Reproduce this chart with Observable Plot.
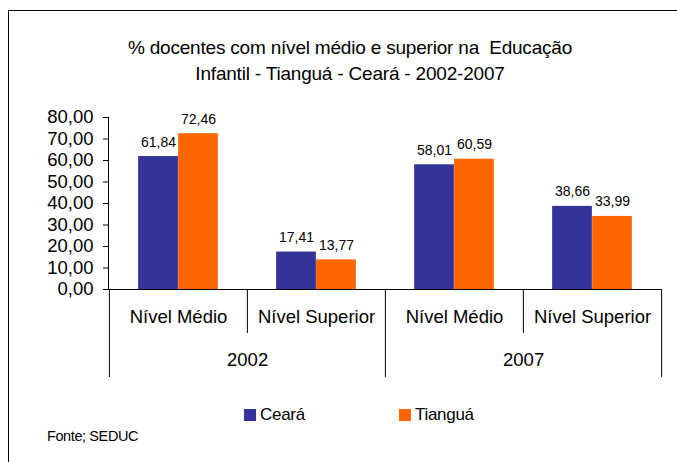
<!DOCTYPE html>
<html><head><meta charset="utf-8">
<script src="https://cdn.jsdelivr.net/npm/d3@7"></script>
<script src="https://cdn.jsdelivr.net/npm/@observablehq/plot@0.6"></script>
<style>
body{margin:0;background:#fff;font-family:"Liberation Sans",Arial,sans-serif;color:#000}
#wrap{position:relative;width:677px;height:462px;overflow:hidden;background:#fff}
#border{position:absolute;left:8px;top:10px;width:720px;height:520px;border-left:1px solid #000;border-top:1px solid #000}
#title{position:absolute;left:0;top:35px;width:700px;text-align:center;font-size:19px;line-height:26px;white-space:pre;letter-spacing:-0.2px}
#main{position:absolute;left:0;top:100px}
#haxis{position:absolute;left:0;top:289px}
.leg{position:absolute;top:406px;height:18px;display:flex;align-items:center;font-size:17px;letter-spacing:-0.3px}
.leg i{display:inline-block;width:12px;height:12px;margin-right:4px}
#fonte{position:absolute;left:47px;top:428px;font-size:14.5px;letter-spacing:-0.4px}
</style>
</head><body>
<div id="wrap">
  <div id="border"></div>
  <div id="title"></div>
  <div id="main"></div>
  <div id="haxis"></div>
  <div id="legend"></div>
  <div id="fonte"></div>
</div>
<script>
// ---- data ----
const titleLines = ["% docentes com nível médio e superior na  Educação", "Infantil - Tianguá - Ceará - 2002-2007"];
const years = ["2002", "2007"];
const levels = ["Nível Médio", "Nível Superior"];
const seriesNames = ["Ceará", "Tianguá"];
const cearaValues = [61.84, 17.41, 58.01, 38.66];
const tianguaValues = [72.46, 13.77, 60.59, 33.99];
const yTicks = [0, 10, 20, 30, 40, 50, 60, 70, 80];
const seriesColors = ["#333399", "#FF6600"];
const source = "Fonte; SEDUC";

// ---- derived ----
const cats = years.flatMap(y => levels.map(l => `${y}|${l}`));
const rows = cats.map((c, i) => ({cat: c, year: c.split("|")[0], level: c.split("|")[1], v: [cearaValues[i], tianguaValues[i]]}));
const fmt = d => d.toFixed(2).replace(".", ",");

const W = 677, ML = 108, MR = 16;
const bw = (W - ML - MR) / cats.length;
const barW = 40;
const outer = (bw - 2 * barW) / 2;
const font = '"Liberation Sans", Arial, sans-serif';

document.getElementById("title").textContent = titleLines.join("\n");
document.getElementById("fonte").textContent = source;

const main = Plot.plot({
  width: W, height: 200,
  marginLeft: ML, marginRight: MR, marginTop: 17, marginBottom: 11,
  x: {type: "band", domain: cats, padding: 0, axis: null},
  y: {domain: [0, 80], axis: null},
  style: {fontFamily: font, color: "#000", overflow: "visible", background: "transparent"},
  marks: [
    Plot.barY(rows, {x: "cat", y: d => d.v[0], fill: seriesColors[0], insetLeft: outer, insetRight: outer + barW}),
    Plot.barY(rows, {x: "cat", y: d => d.v[1], fill: seriesColors[1], insetLeft: outer + barW, insetRight: outer}),
    Plot.text(rows, {x: "cat", y: d => d.v[0], text: d => fmt(d.v[0]), dx: -barW / 2, dy: -10, lineAnchor: "bottom", fontSize: 14, fill: "#000"}),
    Plot.text(rows, {x: "cat", y: d => d.v[1], text: d => fmt(d.v[1]), dx: barW / 2, dy: -10, lineAnchor: "bottom", fontSize: 14, fill: "#000"}),
    Plot.axisY(yTicks, {tickFormat: fmt, tickSize: 5, tickPadding: 10, fontSize: 18.5, stroke: "#000", fill: "#000"}),
    Plot.frame({anchor: "left", stroke: "#000"}),
    Plot.ruleY([0], {stroke: "#000"})
  ]
});
document.getElementById("main").appendChild(main);

// hierarchical category axis
const leftSeps = [];
rows.forEach((r, i) => {
  leftSeps.push({cat: r.cat, row: "level"});
  if (i % levels.length === 0) leftSeps.push({cat: r.cat, row: "year"});
});
const rightSeps = [{cat: cats[cats.length - 1], row: "level"}, {cat: cats[cats.length - 1], row: "year"}];

const hax = Plot.plot({
  width: W, height: 88,
  marginLeft: ML, marginRight: MR, marginTop: 0, marginBottom: 0,
  x: {type: "band", domain: cats, padding: 0, axis: null},
  y: {type: "band", domain: ["level", "year"], padding: 0, axis: null},
  style: {fontFamily: font, color: "#000", overflow: "visible", background: "transparent"},
  marks: [
    Plot.tickX(leftSeps, {x: "cat", y: "row", dx: -bw / 2, stroke: "#000"}),
    Plot.tickX(rightSeps, {x: "cat", y: "row", dx: bw / 2, stroke: "#000"}),
    Plot.text(rows, {x: "cat", y: () => "level", text: "level", dy: 6, fontSize: 18.5, fill: "#000"}),
    Plot.text(years, {x: y => `${y}|${levels[0]}`, y: () => "year", text: d => d, dx: bw / 2, dy: 5, fontSize: 18.5, fill: "#000"})
  ]
});
document.getElementById("haxis").appendChild(hax);

// legend
const legLeft = [244, 399];
const legend = document.getElementById("legend");
seriesNames.forEach((n, i) => {
  const d = document.createElement("div");
  d.className = "leg";
  d.style.left = legLeft[i] + "px";
  d.innerHTML = `<i style="background:${seriesColors[i]}"></i><span></span>`;
  d.querySelector("span").textContent = n;
  legend.appendChild(d);
});
</script>
</body></html>
